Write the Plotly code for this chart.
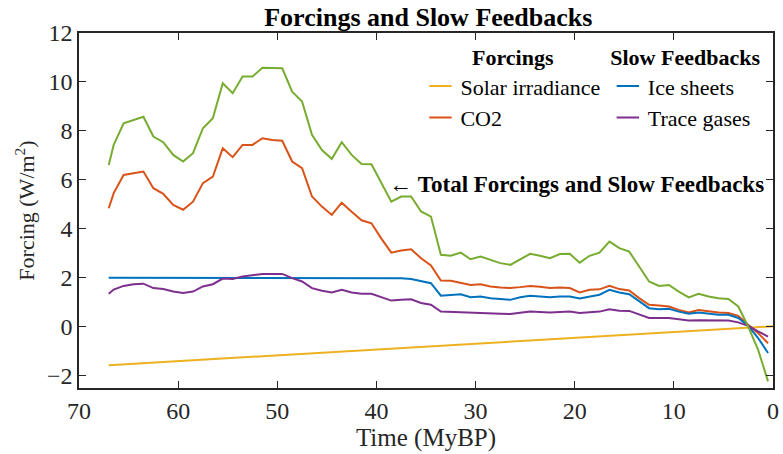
import plotly.graph_objects as go

# Time axis (millions of years before present)
time_mybp = [67, 66.5, 65.5, 64.5, 63.5, 62.5, 61.5, 60.5, 59.5, 58.5,
             57.5, 56.5, 55.5, 54.5, 53.5, 52.5, 51.5, 50.5, 49.5, 48.5,
             47.5, 46.5, 45.5, 44.5, 43.5, 42.5, 41.5, 40.5, 39.5, 38.5,
             37.5, 36.5, 35.5, 34.5, 33.5, 32.5, 31.5, 30.5, 29.5, 28.5,
             27.5, 26.5, 25.5, 24.5, 23.5, 22.5, 21.5, 20.5, 19.5, 18.5,
             17.5, 16.5, 15.5, 14.5, 13.5, 12.5, 11.5, 10.5, 9.5, 8.5,
             7.5, 6.5, 5.5, 4.5, 3.5, 2.5, 1.5, 0.5]

# Solar irradiance forcing (linear trend)
solar_time = [67, 0]
solar = [-1.57, 0.02]

co2 = [4.84, 5.46, 6.20, 6.27, 6.34, 5.66, 5.43, 4.98, 4.78, 5.11,
       5.87, 6.13, 7.29, 6.93, 7.43, 7.43, 7.70, 7.63, 7.60, 6.75,
       6.48, 5.32, 4.91, 4.57, 5.07, 4.70, 4.35, 4.23, 3.60, 3.03,
       3.12, 3.17, 2.80, 2.51, 1.89, 1.88, 1.80, 1.71, 1.74, 1.65,
       1.61, 1.58, 1.62, 1.67, 1.64, 1.58, 1.60, 1.58, 1.40, 1.51,
       1.53, 1.67, 1.54, 1.48, 1.17, 0.90, 0.87, 0.83, 0.69, 0.58,
       0.69, 0.62, 0.58, 0.56, 0.45, 0.08, -0.26, -0.67]

ice_sheets = [2.00, 2.00, 2.00, 2.00, 2.00, 2.00, 2.00, 2.00, 2.00, 2.00,
              2.00, 2.00, 2.00, 2.00, 2.00, 2.00, 2.00, 2.00, 2.00, 2.00,
              2.00, 2.00, 2.00, 2.00, 2.00, 2.00, 2.00, 2.00, 2.00, 2.00,
              1.98, 1.95, 1.88, 1.78, 1.27, 1.31, 1.33, 1.21, 1.24, 1.17,
              1.13, 1.10, 1.21, 1.27, 1.24, 1.21, 1.24, 1.24, 1.16, 1.24,
              1.31, 1.51, 1.40, 1.33, 1.03, 0.76, 0.72, 0.74, 0.62, 0.53,
              0.58, 0.53, 0.49, 0.49, 0.36, 0.04, -0.46, -1.07]

trace_gases = [1.35, 1.52, 1.67, 1.74, 1.76, 1.58, 1.54, 1.44, 1.38, 1.44,
               1.65, 1.74, 1.97, 1.95, 2.05, 2.12, 2.16, 2.16, 2.16, 1.99,
               1.85, 1.58, 1.47, 1.40, 1.51, 1.40, 1.35, 1.35, 1.21, 1.07,
               1.10, 1.12, 0.97, 0.90, 0.62, 0.60, 0.58, 0.57, 0.56, 0.54,
               0.53, 0.52, 0.58, 0.62, 0.60, 0.58, 0.60, 0.62, 0.56, 0.58,
               0.62, 0.72, 0.66, 0.65, 0.49, 0.36, 0.36, 0.36, 0.31, 0.26,
               0.27, 0.27, 0.26, 0.26, 0.18, 0.04, -0.19, -0.40]

total = [6.61, 7.43, 8.31, 8.45, 8.58, 7.77, 7.54, 7.02, 6.75, 7.09,
         8.11, 8.52, 9.95, 9.54, 10.22, 10.22, 10.58, 10.57, 10.56, 9.60,
         9.20, 7.84, 7.22, 6.86, 7.54, 7.02, 6.65, 6.64, 5.87, 5.11,
         5.32, 5.32, 4.71, 4.50, 2.94, 2.90, 3.03, 2.76, 2.87, 2.73,
         2.60, 2.53, 2.76, 2.98, 2.90, 2.80, 2.97, 2.98, 2.62, 2.90,
         3.03, 3.48, 3.21, 3.07, 2.46, 1.85, 1.67, 1.71, 1.44, 1.20,
         1.35, 1.24, 1.17, 1.14, 0.83, 0.01, -0.94, -2.23]

x_ticks = [70, 60, 50, 40, 30, 20, 10, 0]
y_ticks = [-2, 0, 2, 4, 6, 8, 10, 12]

FONT = "Liberation Serif, Times New Roman, serif"
AX = "#262626"

series = [
    ("Solar irradiance", solar_time, solar, "#EDB120", "legend"),
    ("CO2", time_mybp, co2, "#D95319", "legend"),
    ("Ice sheets", time_mybp, ice_sheets, "#0072BD", "legend2"),
    ("Trace gases", time_mybp, trace_gases, "#7E2F8E", "legend2"),
]

fig = go.Figure()
for name, xs, ys, color, leg in series:
    fig.add_trace(go.Scatter(x=xs, y=ys, mode="lines", name=name,
                             line=dict(color=color, width=2), showlegend=False))
fig.add_trace(go.Scatter(x=time_mybp, y=total, mode="lines", name="Total",
                         line=dict(color="#77AC30", width=2), showlegend=False))

# Legend keys: short line swatches grouped under the two column headers
for name, xs, ys, color, leg in series:
    fig.add_trace(go.Scatter(x=[None], y=[None], mode="markers", name=name, legend=leg,
                             marker=dict(symbol="line-ew", size=16,
                                         line=dict(color=color, width=2))))

fig.add_annotation(x=38.9, y=5.8, xref="x", yref="y", xanchor="left", yanchor="middle",
                   text="← <b>Total Forcings and Slow Feedbacks</b>", showarrow=False,
                   font=dict(family=FONT, size=23, color="black"))

axis_common = dict(showline=True, linecolor=AX, linewidth=1.5, mirror="ticks",
                   ticks="inside", ticklen=7, tickwidth=1.2, tickcolor=AX,
                   showgrid=False, zeroline=False,
                   tickfont=dict(family=FONT, size=24, color=AX))

legend_font = dict(family=FONT, size=22, color="black")

fig.update_layout(
    width=783, height=454,
    margin=dict(l=79, r=4, t=33, b=66),
    paper_bgcolor="white", plot_bgcolor="white",
    title=dict(text="<b>Forcings and Slow Feedbacks</b>", x=0.547, xanchor="center",
               y=0.962, yanchor="middle", font=dict(family=FONT, size=26, color="black")),
    xaxis=dict(range=[70, 0], tickvals=x_ticks,
               title=dict(text="Time (MyBP)", font=dict(family=FONT, size=25, color=AX),
                          standoff=2), **axis_common),
    yaxis=dict(range=[-2.5, 12], tickvals=y_ticks,
               title=dict(text="Forcing (W/m<sup>2</sup>)", font=dict(family=FONT, size=22, color=AX),
                          standoff=6), **axis_common),
    legend=dict(x=0.492, y=0.99, xanchor="left", yanchor="top", bgcolor="rgba(0,0,0,0)",
                font=legend_font, itemwidth=30, tracegroupgap=0, itemsizing="trace",
                title=dict(text="<b>Forcings</b>", side="top center", font=legend_font)),
    legend2=dict(x=0.762, y=0.99, xanchor="left", yanchor="top", bgcolor="rgba(0,0,0,0)",
                 font=legend_font, itemwidth=30, tracegroupgap=0, itemsizing="trace",
                 title=dict(text="<b>Slow Feedbacks</b>", side="top center", font=legend_font)),
)

fig.write_html("out.html")
